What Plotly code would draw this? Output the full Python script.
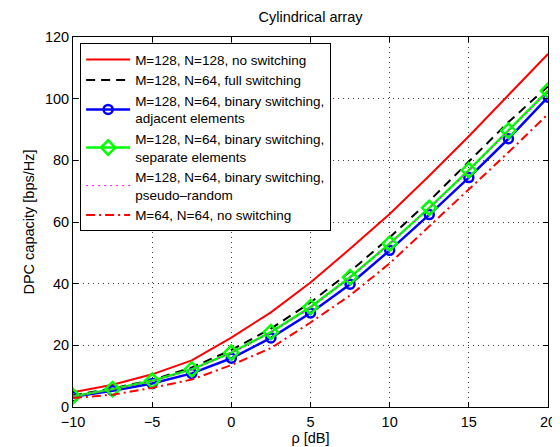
import plotly.graph_objects as go

rho_db = [-10, -7.5, -5, -2.5, 0, 2.5, 5, 7.5, 10, 12.5, 15, 17.5, 20]

cap_m128_n128_noswitch = [4.8, 7.2, 10.6, 15.1, 22.5, 30.7, 40.4, 51.3, 62.6, 75.0, 87.8, 101.0, 114.5]
cap_m128_n64_full = [3.8, 6.0, 8.8, 12.8, 18.5, 25.4, 33.9, 43.9, 55.0, 66.8, 79.6, 92.4, 104.0]
cap_m128_n64_adjacent = [3.3, 5.3, 7.6, 10.9, 15.8, 22.4, 30.5, 39.8, 50.8, 62.4, 74.4, 87.0, 100.5]
cap_m128_n64_separate = [3.5, 5.8, 8.5, 12.2, 17.6, 24.3, 32.4, 42.1, 53.0, 64.6, 76.8, 89.6, 102.6]
cap_m128_n64_pseudo = [3.5, 5.7, 8.4, 12.1, 17.5, 24.2, 32.3, 42.0, 52.9, 64.5, 76.7, 89.5, 102.5]
cap_m64_n64_noswitch = [2.9, 4.0, 6.2, 8.9, 13.6, 19.1, 27.4, 36.2, 46.6, 58.6, 70.4, 82.6, 95.0]

x_ticks = [-10, -5, 0, 5, 10, 15, 20]
y_ticks = [0, 20, 40, 60, 80, 100, 120]

FONT = "Liberation Sans, Arial, Helvetica, sans-serif"

fig = go.Figure()
fig.add_trace(go.Scatter(x=rho_db, y=cap_m128_n128_noswitch, mode="lines",
                         name="M=128, N=128, no switching",
                         line=dict(color="#ff0000", width=2)))
fig.add_trace(go.Scatter(x=rho_db, y=cap_m128_n64_full, mode="lines",
                         name="M=128, N=64, full switching",
                         line=dict(color="#000000", width=2, dash="9px,6px")))
fig.add_trace(go.Scatter(x=rho_db, y=cap_m128_n64_adjacent, mode="lines+markers",
                         name="M=128, N=64, binary switching,<br>adjacent elements",
                         line=dict(color="#0000ff", width=2.5),
                         marker=dict(symbol="circle-open", size=9, color="#0000ff",
                                     line=dict(width=2.5, color="#0000ff"))))
fig.add_trace(go.Scatter(x=rho_db, y=cap_m128_n64_separate, mode="lines+markers",
                         name="M=128, N=64, binary switching,<br>separate elements",
                         line=dict(color="#00ff00", width=2.5),
                         marker=dict(symbol="diamond-open", size=11, color="#00ff00",
                                     line=dict(width=2.5, color="#00ff00"))))
fig.add_trace(go.Scatter(x=rho_db, y=cap_m128_n64_pseudo, mode="lines",
                         name="M=128, N=64, binary switching,<br>pseudo\u2013random",
                         line=dict(color="#ff00ff", width=1, dash="2px,4px")))
fig.add_trace(go.Scatter(x=rho_db, y=cap_m64_n64_noswitch, mode="lines",
                         name="M=64, N=64, no switching",
                         line=dict(color="#ff0000", width=2, dash="9px,4px,2px,4px")))

axis_common = dict(
    showline=True, linecolor="black", linewidth=1, mirror="ticks",
    ticks="inside", ticklen=5, tickcolor="black",
    showgrid=True, gridcolor="#404040", griddash="1px,4px", gridwidth=1,
    zeroline=False, tickfont=dict(size=14.5, color="black", family=FONT),
)

fig.update_xaxes(range=[-10, 20], tickvals=x_ticks, ticklabelstandoff=2,
                 title=dict(text="\u03c1 [dB]", font=dict(size=14.5, color="black", family=FONT), standoff=2),
                 **axis_common)
fig.update_yaxes(range=[0, 120], tickvals=y_ticks,
                 title=dict(text="DPC capacity [bps/Hz]", font=dict(size=14.5, color="black", family=FONT), standoff=6),
                 **axis_common)

fig.update_layout(
    width=560, height=447,
    margin=dict(l=65, r=17, t=29, b=40),
    paper_bgcolor="white", plot_bgcolor="white",
    font=dict(family=FONT, size=14.5, color="black"),
    title=dict(text="Cylindrical array", x=0.5, xanchor="center", xref="paper",
               y=1, yref="container", yanchor="top", pad=dict(t=4),
               font=dict(size=14.5, color="black", family=FONT)),
    legend=dict(x=0.015, y=0.983, xanchor="left", yanchor="top",
                bgcolor="white", bordercolor="black", borderwidth=1,
                font=dict(size=13.5, color="black", family=FONT),
                itemwidth=44, tracegroupgap=0),
    showlegend=True,
)

fig.write_html("out.html")
